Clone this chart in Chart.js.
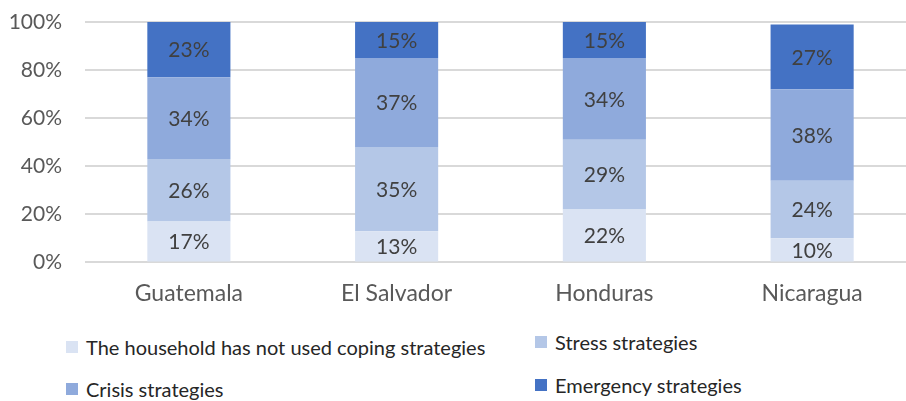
<!DOCTYPE html>
<html>
<head>
<meta charset="utf-8">
<script src="https://cdn.jsdelivr.net/npm/chart.js@4/dist/chart.umd.min.js"></script>
<style>
  html, body { margin: 0; padding: 0; background: #fff; overflow: hidden; }
  #wrap { position: relative; width: 906px; height: 401px; overflow: hidden; font-family: Lato, "Open Sans", sans-serif; }
  #box { position: absolute; left: 0; top: 0; width: 916px; height: 322px; }
  .leg { position: absolute; display: flex; align-items: center; font-size: 20px; color: #262626; white-space: nowrap; }
  .leg i { display: inline-block; width: 12px; height: 12px; margin-right: 8px; }
</style>
</head>
<body>
<div id="wrap">
  <div id="box"><canvas id="c" width="916" height="322"></canvas></div>
  <div id="legend"></div>
</div>
<script>
// Share of households by coping strategy, per country (%)
const countries = ["Guatemala", "El Salvador", "Honduras", "Nicaragua"];
const noStrategies = [17, 13, 22, 10];
const stressStrategies = [26, 35, 29, 24];
const crisisStrategies = [34, 37, 34, 38];
const emergencyStrategies = [23, 15, 15, 27];
const yTicks = [0, 20, 40, 60, 80, 100];

const seriesNames = [
  "The household has not used coping strategies",
  "Stress strategies",
  "Crisis strategies",
  "Emergency strategies"
];
const seriesColors = ["#DAE3F3", "#B4C7E7", "#8FAADC", "#4472C4"];
const seriesValues = [noStrategies, stressStrategies, crisisStrategies, emergencyStrategies];

const FONT = "Lato, 'Open Sans', sans-serif";

// Writes each segment's value in the middle of its bar piece
const segmentLabels = {
  id: "segmentLabels",
  afterDatasetsDraw(chart) {
    const ctx = chart.ctx;
    ctx.save();
    ctx.font = "21px " + FONT;
    ctx.fillStyle = "#404040";
    ctx.textAlign = "center";
    ctx.textBaseline = "middle";
    chart.data.datasets.forEach((ds, di) => {
      const meta = chart.getDatasetMeta(di);
      meta.data.forEach((bar, i) => {
        const y = (bar.y + bar.base) / 2;
        ctx.fillText(ds.data[i] + "%", bar.x, y + 1);
      });
    });
    ctx.restore();
  }
};

new Chart(document.getElementById("c"), {
  type: "bar",
  data: {
    labels: countries,
    datasets: seriesNames.map((name, k) => ({
      label: name,
      data: seriesValues[k],
      backgroundColor: seriesColors[k],
      borderWidth: 0,
      categoryPercentage: 1,
      barPercentage: 0.4
    }))
  },
  options: {
    responsive: false,
    animation: false,
    layout: { padding: { left: 0, right: 0, top: 22, bottom: 6 } },
    plugins: { legend: { display: false }, tooltip: { enabled: false } },
    scales: {
      x: {
        stacked: true,
        grid: { display: false },
        border: { display: false },
        ticks: { color: "#595959", font: { family: FONT, size: 23 }, padding: 9 }
      },
      y: {
        stacked: true,
        min: 0,
        max: 100,
        afterBuildTicks(scale) { scale.ticks = yTicks.map(v => ({ value: v })); },
        afterFit(scale) {
          scale.width = 85;
          scale.paddingTop = 12;
          scale.paddingBottom = 12;
        },
        grid: { color: "#D9D9D9", lineWidth: 2, drawTicks: false },
        border: { display: false },
        ticks: {
          color: "#595959",
          font: { family: FONT, size: 21 },
          padding: 23,
          callback: v => v + "%"
        }
      }
    }
  },
  plugins: [segmentLabels]
});

// Legend in two columns below the plot
const legendPos = [
  { left: 66, top: 347 },
  { left: 535, top: 342 },
  { left: 66, top: 389 },
  { left: 535, top: 385 }
];
const legend = document.getElementById("legend");
seriesNames.forEach((name, k) => {
  const el = document.createElement("div");
  el.className = "leg";
  el.style.left = legendPos[k].left + "px";
  el.style.top = (legendPos[k].top - 12) + "px";
  el.style.height = "24px";
  el.innerHTML = '<i style="background:' + seriesColors[k] + '"></i>';
  el.appendChild(document.createTextNode(name));
  legend.appendChild(el);
});
</script>
</body>
</html>
